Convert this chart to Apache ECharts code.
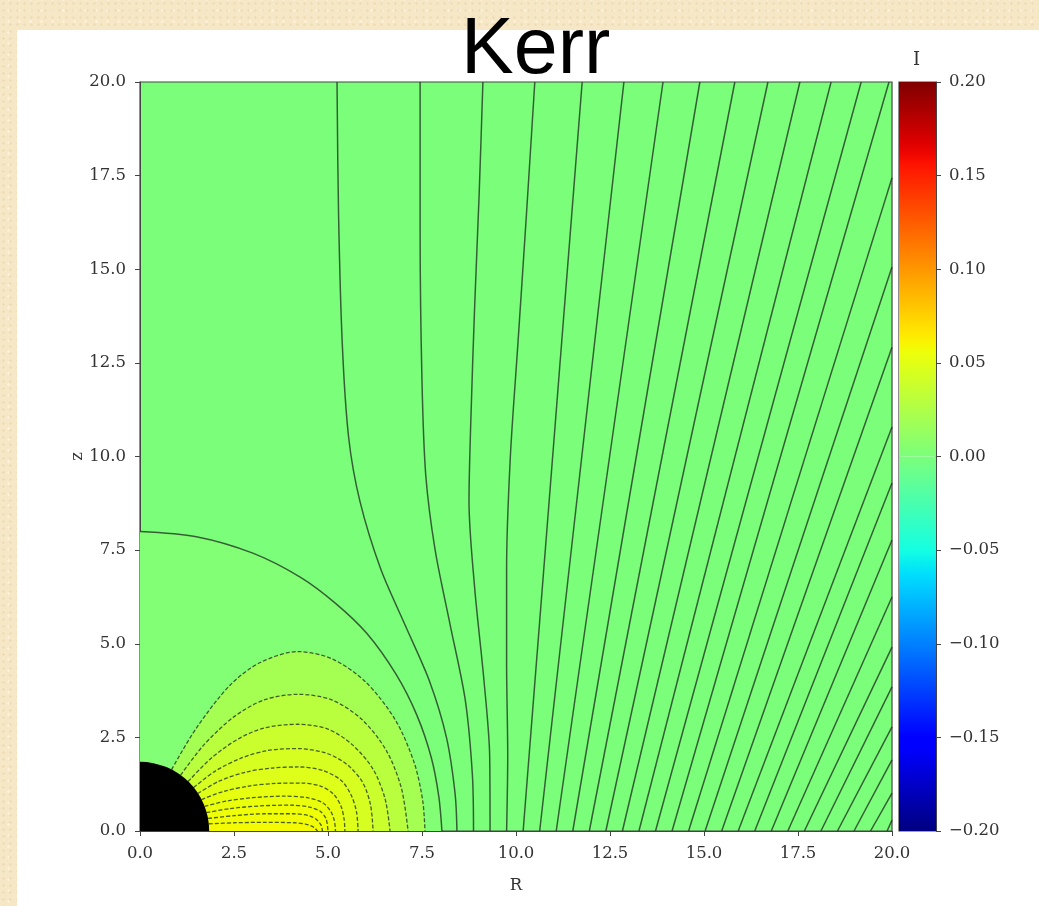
<!DOCTYPE html>
<html><head><meta charset="utf-8">
<script src="https://cdn.jsdelivr.net/npm/echarts@6/dist/echarts.min.js"></script>
<style>
html,body{margin:0;padding:0;width:1039px;height:906px;overflow:hidden;
  background-color:#f6e8c6;
  background-image:radial-gradient(rgba(200,170,110,0.18) 1px, transparent 1.5px),radial-gradient(rgba(255,250,235,0.5) 1px, transparent 1.5px);
  background-size:7px 7px,11px 11px;background-position:0 0,3px 5px}
#panel{position:absolute;left:17px;top:30px;width:1022px;height:876px;background:#fff}
#chart{position:absolute;left:0;top:0;width:1039px;height:906px}
</style></head><body><div id="panel"></div><div id="chart"></div>
<script>
// ---------- data ----------
const xTickLabels = ['0.0','2.5','5.0','7.5','10.0','12.5','15.0','17.5','20.0'];
const yTickLabels = ['0.0','2.5','5.0','7.5','10.0','12.5','15.0','17.5','20.0'];
const cbTickLabels = ['\u22120.20','\u22120.15','\u22120.10','\u22120.05','0.00','0.05','0.10','0.15','0.20'];
const horizonRadius = 1.84;
// separatrix (psi = 0), solid
const separatrix = [[0,8],[1.5,7.86],[3,7.42],[4.26,6.78],[5.2,6.08],[6.03,5.28],[6.8,4.2],[7.36,3.1],[7.75,1.95],[7.95,0.9],[8.03,0]];
// closed (dashed) field lines, outer -> inner
const loop1 = [[0.84,1.64],[1.5,2.75],[2.4,3.9],[3.2,4.5],[4.2,4.79],[5.1,4.6],[6.0,3.98],[6.8,2.95],[7.3,1.8],[7.52,0.8],[7.58,0]];
const loop2 = [[1.08,1.49],[1.7,2.3],[2.5,3.05],[3.3,3.5],[4.2,3.65],[5.1,3.5],[5.9,2.98],[6.55,2.15],[6.95,1.15],[7.13,0]];
const loop3 = [[1.28,1.32],[1.9,1.95],[2.6,2.45],[3.3,2.75],[4.2,2.85],[5.0,2.72],[5.65,2.3],[6.2,1.65],[6.52,0.85],[6.65,0]];
const loop4 = [[1.43,1.16],[2.0,1.6],[2.7,1.95],[3.4,2.15],[4.2,2.2],[4.95,2.08],[5.5,1.78],[5.92,1.3],[6.13,0.7],[6.2,0]];
const loop5 = [[1.54,1.0],[2.1,1.33],[2.8,1.57],[3.5,1.68],[4.2,1.71],[4.85,1.62],[5.35,1.35],[5.62,0.95],[5.76,0.5],[5.8,0]];
const loop6 = [[1.64,0.84],[2.2,1.05],[2.9,1.2],[3.6,1.27],[4.3,1.28],[4.8,1.2],[5.15,0.98],[5.35,0.65],[5.43,0.3],[5.45,0]];
const loop7 = [[1.72,0.66],[2.3,0.8],[3.0,0.89],[3.8,0.93],[4.45,0.89],[4.85,0.76],[5.07,0.53],[5.17,0.27],[5.2,0]];
const loop8 = [[1.77,0.49],[2.4,0.6],[3.2,0.67],[4.0,0.69],[4.5,0.64],[4.8,0.52],[4.95,0.32],[5.0,0]];
const loop9 = [[1.81,0.335],[2.5,0.41],[3.3,0.46],[4.1,0.46],[4.5,0.41],[4.7,0.3],[4.82,0.15],[4.85,0]];
const loop10 = [[1.83,0.19],[2.5,0.22],[3.3,0.23],[4.1,0.22],[4.42,0.18],[4.62,0.1],[4.72,0]];
const loops = [loop1,loop2,loop3,loop4,loop5,loop6,loop7,loop8,loop9,loop10];
// colour value I inside each band: under separatrix, under loop1 ... under loop10
const bandI = [0.003,0.02,0.03,0.038,0.044,0.048,0.052,0.054,0.056,0.057,0.058];
// open (solid) field lines, from the equator upward
const open1 = [[8.43,0],[8.38,1],[8.15,2.5],[7.7,4],[7.05,5.5],[6.4,7],[5.85,8.8],[5.55,10.5],[5.38,13],[5.28,16.5],[5.24,20]];
const open2 = [[8.87,0],[8.84,1.5],[8.65,3.5],[8.25,5.5],[7.85,7.5],[7.6,9.5],[7.5,12],[7.45,16],[7.45,20]];
const open3 = [[9.31,0],[9.3,2],[9.15,4],[8.9,6.5],[8.75,8.8],[8.8,11],[8.9,14],[9.02,17],[9.12,20]];
const open4 = [[9.75,0],[9.78,2],[9.75,4.5],[9.75,7],[9.85,10],[10.05,13],[10.28,16.5],[10.5,20]];
const open5 = [[10.19,0],[11.76,20]];
const open6 = [[10.63,0],[12.87,20]];
const open7 = [[11.07,0],[13.91,20]];
const open8 = [[11.51,0],[14.89,20]];
const open9 = [[11.95,0],[15.82,20]];
const open10 = [[12.39,0],[16.70,20]];
const open11 = [[12.83,0],[17.55,20]];
const open12 = [[13.27,0],[18.38,20]];
const open13 = [[13.71,0],[19.18,20]];
const open14 = [[14.15,0],[19.92,20]];
const open15 = [[14.59,0],[20,17.44]];
const open16 = [[15.03,0],[20,15.06]];
const open17 = [[15.47,0],[20,12.92]];
const open18 = [[15.91,0],[20,10.79]];
const open19 = [[16.35,0],[20,9.29]];
const open20 = [[16.79,0],[20,7.77]];
const open21 = [[17.23,0],[20,6.25]];
const open22 = [[17.67,0],[20,4.91]];
const open23 = [[18.11,0],[20,3.85]];
const open24 = [[18.55,0],[20,2.78]];
const open25 = [[18.99,0],[20,1.90]];
const open26 = [[19.43,0],[20,1.01]];
const open27 = [[19.87,0],[20,0.29]];
const openLines = [open1,open2,open3,open4,open5,open6,open7,open8,open9,open10,open11,open12,open13,open14,
  open15,open16,open17,open18,open19,open20,open21,open22,open23,open24,open25,open26,open27];

// ---------- colormap (matplotlib jet) ----------
const cbMin = -0.2, cbMax = 0.2;
const JET_R=[[0,0],[0.35,0],[0.66,1],[0.89,1],[1,0.5]];
const JET_G=[[0,0],[0.125,0],[0.375,1],[0.64,1],[0.91,0],[1,0]];
const JET_B=[[0,0.5],[0.11,1],[0.34,1],[0.65,0],[1,0]];
function seg(p,t){for(let i=1;i<p.length;i++){if(t<=p[i][0]){const a=p[i-1],b=p[i];return a[1]+(b[1]-a[1])*(t-a[0])/(b[0]-a[0]);}}return p[p.length-1][1];}
function jet(v){const t=Math.max(0,Math.min(1,(v-cbMin)/(cbMax-cbMin)));
  return 'rgb('+Math.round(255*seg(JET_R,t))+','+Math.round(255*seg(JET_G,t))+','+Math.round(255*seg(JET_B,t))+')';}
function gradStops(from,to){const s=[];for(let i=0;i<=32;i++){s.push({offset:i/32,color:jet(from+(to-from)*i/32)});}return s;}

const lineColor = 'rgba(35,55,35,0.8)';
const serif = 'DejaVu Serif';
const chart = echarts.init(document.getElementById('chart'));
const series = [];
series.push({type:'line',data:separatrix,smooth:0.3,showSymbol:false,silent:true,z:1,
  lineStyle:{width:0,opacity:0},areaStyle:{color:jet(bandI[0]),opacity:1}});
loops.forEach((lp,i)=>series.push({type:'line',data:lp,smooth:0.3,showSymbol:false,silent:true,z:1,
  lineStyle:{width:0,opacity:0},areaStyle:{color:jet(bandI[i+1]),opacity:1}}));
series.push({type:'line',data:separatrix,smooth:0.3,showSymbol:false,silent:true,z:3,lineStyle:{color:lineColor,width:1.5}});
loops.forEach(lp=>series.push({type:'line',data:lp,smooth:0.3,showSymbol:false,silent:true,z:3,
  lineStyle:{color:lineColor,width:1.3,type:[4,2]}}));
openLines.forEach(ol=>series.push({type:'line',data:ol,smooth:0.3,showSymbol:false,silent:true,z:3,
  lineStyle:{color:lineColor,width:1.5}}));
series.push({type:'custom',data:[[0,0,horizonRadius]],z:5,silent:true,
  renderItem:(params,api)=>{const c=api.coord([api.value(0),api.value(1)]);const s=api.size([api.value(2),api.value(2)]);
    return {type:'sector',shape:{cx:c[0],cy:c[1],r:s[0],r0:0,startAngle:-Math.PI/2,endAngle:0},style:{fill:'#000'}};}});
series.push({type:'bar',xAxisIndex:1,yAxisIndex:1,data:[cbMax],barWidth:'100%',barGap:'-100%',silent:true,
  itemStyle:{color:new echarts.graphic.LinearGradient(0,1,0,0,gradStops(0,cbMax))}});
series.push({type:'bar',xAxisIndex:1,yAxisIndex:1,data:[cbMin],barWidth:'100%',barGap:'-100%',silent:true,
  itemStyle:{color:new echarts.graphic.LinearGradient(0,0,0,1,gradStops(0,cbMin))}});

const labelStyle = {fontFamily:serif,fontSize:16.5,color:'#333'};
chart.setOption({
  animation:false,
  backgroundColor:'transparent',
  title:{text:'Kerr',left:456,top:7,
    textStyle:{fontFamily:'Liberation Sans',fontSize:79,fontWeight:'normal',color:'#000'}},
  graphic:[{type:'text',left:913,top:51,style:{text:'I',font:'18px "DejaVu Serif"',fill:'#333'}}],
  grid:[
    {left:140,top:82,width:752,height:749,show:true,backgroundColor:jet(0),borderColor:'#444',borderWidth:1.2},
    {left:899,top:82,width:37,height:749,show:true,backgroundColor:'transparent',borderColor:'#444',borderWidth:1.2}
  ],
  xAxis:[
    {type:'value',gridIndex:0,min:0,max:20,interval:2.5,name:'R',nameLocation:'middle',nameGap:46,nameMoveOverlap:false,
     nameTextStyle:labelStyle,axisLine:{show:true,lineStyle:{color:'#444'}},
     axisTick:{show:true,inside:false,length:5,lineStyle:{color:'#444'}},splitLine:{show:false},
     axisLabel:Object.assign({margin:14,formatter:v=>xTickLabels[Math.round(v/2.5)]},labelStyle)},
    {type:'category',gridIndex:1,data:['I'],show:false}
  ],
  yAxis:[
    {type:'value',gridIndex:0,min:0,max:20,interval:2.5,name:'z',nameLocation:'middle',nameGap:54,nameRotate:90,nameMoveOverlap:false,
     nameTextStyle:labelStyle,axisLine:{show:true,lineStyle:{color:'#444'}},
     axisTick:{show:true,inside:false,length:5,lineStyle:{color:'#444'}},splitLine:{show:false},
     axisLabel:Object.assign({margin:14,formatter:v=>yTickLabels[Math.round(v/2.5)]},labelStyle)},
    {type:'value',gridIndex:1,min:cbMin,max:cbMax,interval:0.05,position:'right',
     axisLine:{show:true,lineStyle:{color:'#444'}},axisTick:{show:true,inside:false,length:5,lineStyle:{color:'#444'}},
     splitLine:{show:false},
     axisLabel:Object.assign({margin:13,formatter:v=>cbTickLabels[Math.round((v-cbMin)/0.05)]},labelStyle)}
  ],
  series:series
});
</script></body></html>
